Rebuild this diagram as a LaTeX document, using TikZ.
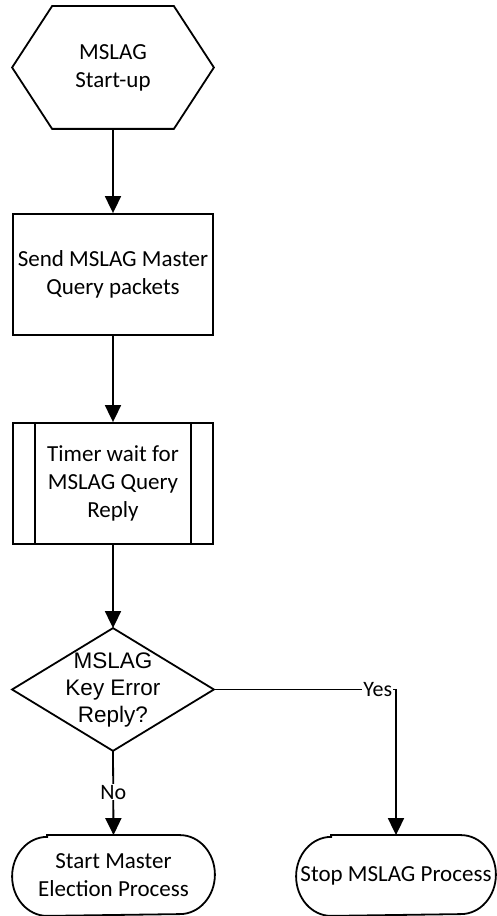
\documentclass[tikz,border=0pt]{standalone}
\usepackage{fontspec}
\setmainfont{Carlito}
\newfontfamily\arialfont{Liberation Sans}
\usetikzlibrary{arrows.meta}
\begin{document}
\begin{tikzpicture}[x=1pt,y=1pt,
  line width=1.8pt,
  box/.style={minimum width=200pt, minimum height=121pt, inner sep=0pt,
              align=center, font=\fontsize{23}{28}\selectfont},
  term/.style={minimum height=79pt, inner sep=0pt,
              align=center, font=\fontsize{23}{28}\selectfont},
  flow/.style={-{Triangle[length=17pt,width=16pt]}},
  lbl/.style={fill=white, inner sep=1pt, font=\fontsize{22}{26}\selectfont}]
\useasboundingbox (0,0) rectangle (496,916);

% start-up (hexagon)
\node[box] (start) at (113,848.5) {MSLAG\\Start-up};
\draw (start.west) -- ([xshift=40pt]start.north west)
  -- ([xshift=-40pt]start.north east) -- (start.east)
  -- ([xshift=-40pt]start.south east) -- ([xshift=40pt]start.south west) -- cycle;

% process step
\node[box,draw] (send) at (113,641.5) {Send MSLAG Master\\Query packets};

% predefined process (double side bars)
\node[box,draw] (wait) at (113,432.5) {Timer wait for\\MSLAG Query\\Reply};
\draw ([xshift=23pt]wait.north west) -- ([xshift=23pt]wait.south west);
\draw ([xshift=-23pt]wait.north east) -- ([xshift=-23pt]wait.south east);

% decision
\node[box, font=\arialfont\fontsize{22.5}{27}\selectfont] (check) at (113,226.5)
  {MSLAG\\Key Error\\Reply?};
\draw (check.north) -- (check.east) -- (check.south) -- (check.west) -- cycle;

% terminators
\node[term, minimum width=201pt] (elect) at (113.5,40.5) {Start Master\\Election Process};
\draw ([xshift=35pt]elect.north west) -- ([xshift=-35pt]elect.north east)
  arc[start angle=90, end angle=-90, x radius=35pt, y radius=39.5pt]
  -- ([xshift=35pt]elect.south west)
  arc[start angle=270, end angle=90, x radius=35pt, y radius=39.5pt] -- cycle;

\node[term, minimum width=198pt] (stop) at (396,40.5) {Stop MSLAG Process};
\draw ([xshift=35pt]stop.north west) -- ([xshift=-35pt]stop.north east)
  arc[start angle=90, end angle=-90, x radius=35pt, y radius=39.5pt]
  -- ([xshift=35pt]stop.south west)
  arc[start angle=270, end angle=90, x radius=35pt, y radius=39.5pt] -- cycle;

% connectors
\draw[flow] (start.south) -- (send.north);
\draw[flow] (send.south) -- (wait.north);
\draw[flow] (wait.south) -- (check.north);
\coordinate (bend) at (stop.north |- check.east);
\draw[flow] (check.east) -- node[lbl, pos=0.9] {Yes} (bend) -- (stop.north);
\draw[flow] (check.south) -- node[lbl, pos=0.49] {No} (elect.north);
\end{tikzpicture}
\end{document}
